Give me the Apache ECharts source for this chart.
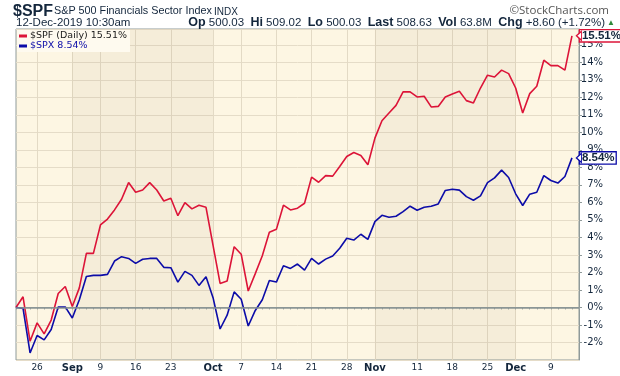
<!DOCTYPE html>
<html><head><meta charset="utf-8">
<script src="https://cdn.jsdelivr.net/npm/echarts/dist/echarts.min.js"></script>
<style>html,body{margin:0;padding:0;background:#fff}#c{width:620px;height:376px}</style>
</head><body><div id="c"></div>
<script>
const dates = ['Aug 21','Aug 22','Aug 23','Aug 26','Aug 27','Aug 28','Aug 29','Aug 30',
'Sep 3','Sep 4','Sep 5','Sep 6','Sep 9','Sep 10','Sep 11','Sep 12','Sep 13','Sep 16','Sep 17','Sep 18','Sep 19','Sep 20','Sep 23','Sep 24','Sep 25','Sep 26','Sep 27','Sep 30',
'Oct 1','Oct 2','Oct 3','Oct 4','Oct 7','Oct 8','Oct 9','Oct 10','Oct 11','Oct 14','Oct 15','Oct 16','Oct 17','Oct 18','Oct 21','Oct 22','Oct 23','Oct 24','Oct 25','Oct 28','Oct 29','Oct 30','Oct 31',
'Nov 1','Nov 4','Nov 5','Nov 6','Nov 7','Nov 8','Nov 11','Nov 12','Nov 13','Nov 14','Nov 15','Nov 18','Nov 19','Nov 20','Nov 21','Nov 22','Nov 25','Nov 26','Nov 27','Nov 29',
'Dec 2','Dec 3','Dec 4','Dec 5','Dec 6','Dec 9','Dec 10','Dec 11','Dec 12'];
const padDates = ['Dec 13'];

const spf = [0, 0.61, -1.93, -0.88, -1.51, -0.72, 0.80, 1.20, 0.05, 1.12,
3.09, 3.09, 4.71, 5.05, 5.57, 6.18, 7.13, 6.58, 6.71, 7.13,
6.71, 6.08, 6.24, 5.24, 5.99, 5.63, 5.84, 5.72, 3.55, 1.37,
1.51, 3.47, 3.04, 0.94, 1.93, 2.95, 4.29, 4.46, 5.84, 5.57,
5.67, 5.95, 7.44, 7.15, 7.53, 7.50, 8.05, 8.62, 8.85, 8.68,
8.15, 9.67, 10.66, 11.10, 11.54, 12.31, 12.31, 12.02, 12.06, 11.45,
11.48, 12.02, 12.19, 12.34, 11.81, 11.68, 12.53, 13.26, 13.16, 13.55,
13.35, 12.53, 11.10, 12.21, 12.63, 14.12, 13.81, 13.81, 13.55, 15.51];

const spx = [0, -0.05, -2.6, -1.6, -1.85, -1.26, 0.02, 0.03, -0.6, 0.44,
1.77, 1.83, 1.83, 1.89, 2.65, 2.90, 2.80, 2.52, 2.75, 2.80,
2.80, 2.29, 2.27, 1.45, 2.06, 1.83, 1.26, 1.75, 0.56, -1.23,
-0.44, 0.89, 0.47, -1.06, -0.17, 0.44, 1.54, 1.45, 2.38, 2.23,
2.48, 2.13, 2.80, 2.48, 2.76, 2.94, 3.38, 3.95, 3.85, 4.18,
3.89, 4.90, 5.26, 5.15, 5.21, 5.47, 5.78, 5.55, 5.72, 5.78,
5.91, 6.68, 6.75, 6.70, 6.33, 6.12, 6.37, 7.13, 7.40, 7.84,
7.42, 6.49, 5.82, 6.47, 6.58, 7.53, 7.25, 7.10, 7.48, 8.54];

const tickDates  = ['Aug 26','Sep 3','Sep 9','Sep 16','Sep 23','Oct 1','Oct 7','Oct 14','Oct 21','Oct 28','Nov 1','Nov 11','Nov 18','Nov 25','Dec 2','Dec 9'];
const tickLabels = ['26','Sep','9','16','23','Oct','7','14','21','28','Nov','11','18','25','Dec','9'];
const monthBands = [['Sep 3','Oct 1'],['Nov 1','Dec 2']];

const RED = '#dc1438', BLUE = '#0c0ca8', INK = '#13263c';
const labelMap = {};
tickDates.forEach((d,i)=>{ labelMap[d] = tickLabels[i]; });
const isTick = (idx, val) => Object.prototype.hasOwnProperty.call(labelMap, val);

const lastSpf = spf[spf.length-1], lastSpx = spx[spx.length-1];

function endLabel(color){
  return {
    show: true,
    formatter: p => p.value.toFixed(2) + '%',
    distance: 8,
    fontFamily: 'Liberation Sans', fontWeight: 'bold', fontSize: 11.5,
    color: INK, backgroundColor: '#ffffff',
    borderColor: color, borderWidth: 1.3, padding: [1, 1, 0, 2], lineHeight: 10
  };
}
function pointer(series, color){
  return {
    symbol: 'triangle', symbolRotate: 90, symbolSize: [9, 5], symbolOffset: [7, 0],
    silent: true, label: {show: false},
    itemStyle: {color: '#ffffff', borderColor: color, borderWidth: 1.2},
    data: [{coord: [series.length-1, series[series.length-1]]}]
  };
}

const chart = echarts.init(document.getElementById('c'), null, {renderer: 'canvas'});
chart.setOption({
  animation: false,
  backgroundColor: '#ffffff',
  title: [
    {text: '$SPF', left: 13, top: 4, padding: 0, textStyle: {fontFamily: 'Liberation Sans', fontSize: 16, fontWeight: 'bold', color: INK}},
    {text: 'S&P 500 Financials Sector Index', left: 54, top: 6, padding: 0, textStyle: {fontFamily: 'Liberation Sans', fontSize: 10.8, fontWeight: 'normal', color: INK}},
    {text: 'INDX', left: 214, top: 7, padding: 0, textStyle: {fontFamily: 'Liberation Sans', fontSize: 10, fontWeight: 'normal', color: INK}},
    {text: '12-Dec-2019 10:30am', left: 16, top: 17, padding: 0, textStyle: {fontFamily: 'Liberation Sans', fontSize: 11.5, fontWeight: 'normal', color: INK}},
    {text: '{b|Op} 500.03  {b|Hi} 509.02  {b|Lo} 500.03  {b|Last} 508.63  {b|Vol} 63.8M  {b|Chg} +8.60 (+1.72%)',
     right: 15, top: 16, padding: 0,
     textStyle: {fontFamily: 'Liberation Sans', fontSize: 11.5, fontWeight: 'normal', color: INK,
       rich: {b: {fontFamily: 'Liberation Sans', fontSize: 12.5, fontWeight: 'bold', color: INK}}}},
    {text: '▲', right: 5, top: 19, padding: 0, textStyle: {fontSize: 8, color: '#2e8b3a', fontWeight: 'normal'}},
    {text: '©StockCharts.com', right: 11, top: 5, padding: 0, textStyle: {fontFamily: 'Open Sans', fontSize: 11.5, fontWeight: 'normal', color: '#555'}}
  ],
  legend: {
    orient: 'vertical', left: 17, top: 30, padding: [1, 3, 1, 2], itemGap: 0,
    backgroundColor: '#fefaef',
    itemWidth: 8, itemHeight: 3, icon: 'rect',
    selectedMode: false,
    textStyle: {fontFamily: 'DejaVu Sans', fontSize: 9.5, lineHeight: 9.5, padding: [0,0,0,-2]},
    data: [
      {name: '$SPF', textStyle: {color: '#1a1a1a'}},
      {name: '$SPX', textStyle: {color: BLUE}}
    ],
    formatter: n => n === '$SPF' ? '$SPF (Daily) ' + lastSpf.toFixed(2) + '%' : '$SPX ' + lastSpx.toFixed(2) + '%'
  },
  grid: {left: 16, right: 41, top: 29, bottom: 16, show: true, backgroundColor: '#fdf6e3', borderColor: '#8f9a9a', borderWidth: 1},
  xAxis: {
    type: 'category', data: dates.concat(padDates), boundaryGap: false,
    axisLine: {show: true, lineStyle: {color: '#8f9a9a', width: 1}},
    axisTick: {show: true, interval: 0, length: 2, lineStyle: {color: '#9aa3a3'}},
    axisLabel: {
      interval: isTick, margin: 3, fontFamily: 'DejaVu Sans', fontSize: 9, color: INK,
      formatter: v => { const l = labelMap[v]; return /^[A-Z]/.test(l) ? '{m|' + l + '}' : l; },
      rich: {m: {fontFamily: 'DejaVu Sans', fontSize: 10, fontWeight: 'bold', color: INK}}
    },
    splitLine: {show: true, interval: isTick, lineStyle: {color: '#e3dac5', width: 1}}
  },
  yAxis: {
    type: 'value', position: 'right', min: -3, max: 15.9, interval: 1,
    axisLine: {show: true, lineStyle: {color: '#8f9a9a', width: 1}},
    axisTick: {show: true, length: 3, lineStyle: {color: '#8f9a9a'}},
    axisLabel: {formatter: v => v + '%', align: 'right', margin: 24, fontFamily: 'DejaVu Sans', fontSize: 10, color: INK,
      showMinLabel: false, showMaxLabel: false},
    splitLine: {show: true, lineStyle: {color: '#e5dcc8', width: 1}}
  },
  series: [
    {
      name: '$SPF', type: 'line', data: spf, showSymbol: false, symbol: 'none',
      lineStyle: {color: RED, width: 1.6}, itemStyle: {color: RED}, z: 3,
      endLabel: endLabel(RED),
      markPoint: pointer(spf, RED),
      markArea: {silent: true, itemStyle: {color: 'rgba(150,130,90,0.075)'},
        data: monthBands.map(b => [{xAxis: b[0]}, {xAxis: b[1]}])},
      markLine: {silent: true, symbol: 'none', label: {show: false},
        lineStyle: {color: '#8a9494', width: 1.5, type: 'solid'}, data: [{yAxis: 0}]}
    },
    {
      name: '$SPX', type: 'line', data: spx, showSymbol: false, symbol: 'none',
      lineStyle: {color: BLUE, width: 1.6}, itemStyle: {color: BLUE}, z: 4,
      endLabel: endLabel(BLUE),
      markPoint: pointer(spx, BLUE)
    }
  ]
});
</script></body></html>
